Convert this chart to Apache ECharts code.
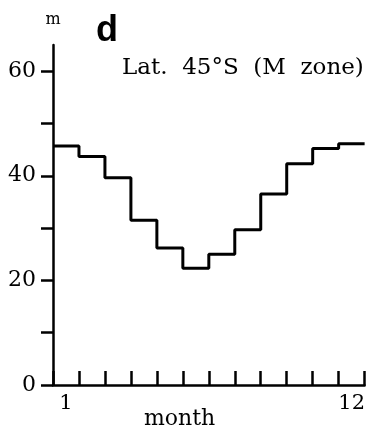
<!DOCTYPE html>
<html>
<head>
<meta charset="utf-8">
<script src="https://cdn.jsdelivr.net/npm/echarts@6/dist/echarts.min.js"></script>
<style>
  html, body { margin: 0; padding: 0; background: #fff; }
  #main { width: 368px; height: 430px; }
</style>
</head>
<body>
<div id="main"></div>
<script>
// mixed layer depth by month, lat 45S
var months = [1, 2, 3, 4, 5, 6, 7, 8, 9, 10, 11, 12];
var depth = [45.7, 43.7, 39.6, 31.5, 26.2, 22.3, 25.0, 29.7, 36.5, 42.3, 45.2, 46.1];
var yTicks = [0, 10, 20, 30, 40, 50, 60];
var yLabels = [0, 20, 40, 60];
var xLabels = [1, 12];

var serif = 'DejaVu Serif';

// step line: each month spans [m-1, m]
var stepData = months.map(function (m, i) { return [m - 1, depth[i]]; });
stepData.push([months[months.length - 1], depth[depth.length - 1]]);

var chart = echarts.init(document.getElementById('main'));
chart.setOption({
    backgroundColor: '#fff',
    animation: false,
    grid: {
        left: 53,
        right: 1,
        top: 45,
        bottom: 45
    },
    xAxis: {
        type: 'value',
        min: 0,
        max: 12,
        splitLine: { show: false },
        axisLine: { lineStyle: { color: '#000', width: 2.5 } },
        axisTick: {
            inside: true,
            length: 14,
            lineStyle: { color: '#000', width: 2.5 },
            customValues: [0].concat(months)
        },
        axisLabel: {
            customValues: xLabels.map(function (m) { return m - 0.5; }),
            formatter: function (v) { return String(v + 0.5); },
            color: '#000',
            fontFamily: serif,
            fontSize: 21,
            margin: 8
        }
    },
    yAxis: {
        type: 'value',
        min: 0,
        max: 65,
        name: 'm',
        nameGap: 17,
        nameTextStyle: { color: '#000', fontFamily: serif, fontSize: 16 },
        splitLine: { show: false },
        axisLine: { show: true, lineStyle: { color: '#000', width: 2.5 } },
        axisTick: {
            show: true,
            length: 12,
            lineStyle: { color: '#000', width: 2.5 },
            customValues: yTicks
        },
        axisLabel: {
            customValues: yLabels,
            color: '#000',
            fontFamily: serif,
            fontSize: 22,
            margin: 17
        }
    },
    graphic: [
        {
            type: 'text', left: 96, top: 13,
            style: { text: 'd', fill: '#000', font: 'bold 36px "Liberation Sans"' }
        },
        {
            type: 'text', left: 122, top: 57,
            style: { text: 'Lat.  45°S  (M  zone)', fill: '#000', font: '23px "DejaVu Serif"' }
        },
        {
            type: 'text', left: 144, top: 408,
            style: { text: 'month', fill: '#000', font: '22px "DejaVu Serif"' }
        }
    ],
    series: [{
        type: 'line',
        step: 'end',
        data: stepData,
        symbol: 'none',
        lineStyle: { color: '#000', width: 3 }
    }]
});
</script>
</body>
</html>
